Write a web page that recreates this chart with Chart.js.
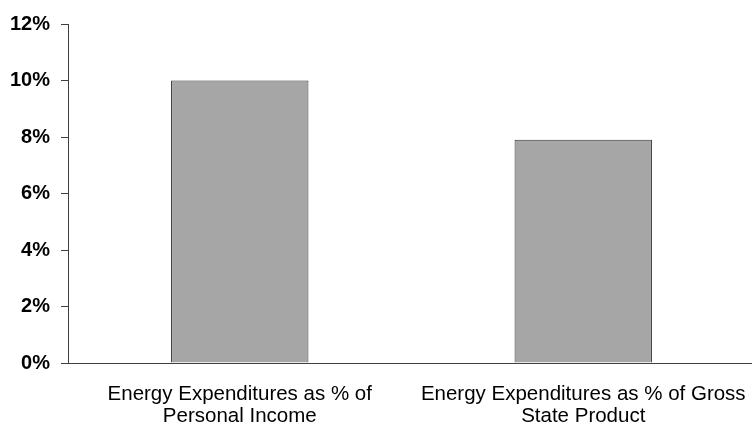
<!DOCTYPE html>
<html>
<head>
<meta charset="utf-8">
<script src="https://cdn.jsdelivr.net/npm/chart.js@4/dist/chart.umd.min.js"></script>
<style>
html,body{margin:0;padding:0;background:#fff;overflow:hidden;}
#wrap{width:752px;height:427px;position:relative;overflow:hidden;}
</style>
</head>
<body>
<div id="wrap"><canvas id="c" width="755" height="427"></canvas></div>
<script>
const categories = [
  ["Energy Expenditures as % of", "Personal Income"],
  ["Energy Expenditures as % of Gross", "State Product"]
];
const values = [10.0, 7.9];
const yTicks = [0, 2, 4, 6, 8, 10, 12];

new Chart(document.getElementById('c'), {
  type: 'bar',
  data: {
    labels: categories,
    datasets: [{
      data: values,
      backgroundColor: '#a6a6a6',
      borderColor: '#333333',
      borderWidth: 1,
      categoryPercentage: 1.0,
      barPercentage: 0.4
    }]
  },
  options: {
    responsive: false,
    animation: false,
    devicePixelRatio: 1,
    layout: { padding: { top: 24, right: 0, left: 0, bottom: 0 } },
    plugins: { legend: { display: false }, tooltip: { enabled: false } },
    scales: {
      x: {
        grid: { display: false },
        border: { display: true, color: '#404040', width: 1 },
        ticks: {
          color: '#000',
          font: { family: 'Liberation Sans', size: 20.5, lineHeight: 1.1 },
          maxRotation: 0,
          autoSkip: false,
          padding: 12
        },
        afterFit: (s) => { s.height = 64; s.paddingLeft = 0; s.paddingRight = 0; }
      },
      y: {
        min: 0, max: 12,
        afterBuildTicks: (s) => { s.ticks = yTicks.map(v => ({ value: v })); },
        grid: { drawOnChartArea: false, color: '#404040', tickLength: 7, tickColor: '#404040' },
        border: { display: true, color: '#404040', width: 1 },
        ticks: {
          color: '#000',
          font: { family: 'Liberation Sans', size: 20, weight: 'bold' },
          padding: 11,
          callback: (v) => v + '%'
        },
        afterFit: (s) => { s.width = 68; }
      }
    }
  }
});
</script>
</body>
</html>
